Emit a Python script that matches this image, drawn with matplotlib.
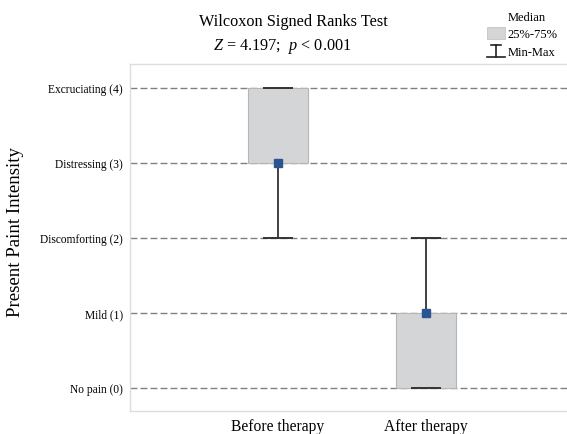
import matplotlib
matplotlib.use("Agg")
import matplotlib.pyplot as plt
from matplotlib.lines import Line2D
from matplotlib.patches import Patch
from matplotlib.legend_handler import HandlerBase

plt.rcParams['font.family'] = ['Liberation Serif', 'DejaVu Serif']
plt.rcParams['mathtext.fontset'] = 'custom'
plt.rcParams['mathtext.rm'] = 'Liberation Serif'
plt.rcParams['mathtext.it'] = 'Liberation Serif:italic'

# pain scores summary per group
groups = ["Before therapy", "After therapy"]
mins = [2, 0]
q1 = [3, 0]
medians = [3, 1]
q3 = [4, 1]
maxs = [4, 2]
levels = [0, 1, 2, 3, 4]
level_labels = ["No pain (0)", "Mild (1)", "Discomforting (2)",
                "Distressing (3)", "Excruciating (4)"]


class IBeamHandler(HandlerBase):
    # vertical line with a cap at each end, like the whiskers
    def create_artists(self, legend, orig_handle, xdescent, ydescent,
                       width, height, fontsize, trans):
        x0, x1 = -xdescent, width - xdescent
        cx = (x0 + x1) / 2
        y0, y1 = -ydescent, height - ydescent
        kw = dict(color="#222222", lw=1.2, transform=trans)
        return [Line2D([cx, cx], [y0, y1], **kw),
                Line2D([x0, x1], [y0, y0], **kw),
                Line2D([x0 + 3, x1 - 3], [y1, y1], **kw)]


fig = plt.figure(figsize=(5.67, 4.35), dpi=100)
ax = fig.add_axes([130 / 567, 23 / 435, 444 / 567, 347 / 435])

xs = [1, 2]
box_w = 0.4
cap_w = 0.2

for x, lo, a, m, b, hi in zip(xs, mins, q1, medians, q3, maxs):
    # whiskers from box edges out to min / max
    ax.vlines(x, lo, a, color="#333333", lw=1.3, zorder=3)
    ax.vlines(x, b, hi, color="#333333", lw=1.3, zorder=3)
    ax.hlines([lo, hi], x - cap_w / 2, x + cap_w / 2, color="#333333", lw=1.4, zorder=4)
    ax.bar(x, b - a, bottom=a, width=box_w, color="#d4d5d7",
           edgecolor="#b5b6b8", lw=0.8, zorder=2)
    ax.plot(x, m, marker="s", ms=6, color="#2b5592", zorder=5)

ax.set_xlim(0, 3)
ax.set_ylim(-0.31, 4.32)
ax.set_xticks(xs)
ax.set_xticklabels(groups, fontsize=11.2)
ax.set_yticks(levels)
ax.set_yticklabels(level_labels, fontsize=8.3)
ax.tick_params(length=0, pad=5)
ax.yaxis.grid(True, color="#808080", lw=1.0, linestyle=(0, (5, 2.2)))
ax.set_axisbelow(True)
for side in ["left", "top", "bottom"]:
    ax.spines[side].set_color("#dddddd")
    ax.spines[side].set_linewidth(1.0)
ax.spines["right"].set_visible(False)

fig.text(16 / 567, 1 - 232 / 435, "Present Paint Intensity", rotation=90,
         fontsize=13.6, ha="center", va="center")

fig.text(293 / 567, 1 - 22 / 435, "Wilcoxon Signed Ranks Test",
         fontsize=11.7, ha="center", va="center")
fig.text(282 / 567, 1 - 46 / 435, r"$Z$ = 4.197;  $p$ < 0.001",
         fontsize=11.7, ha="center", va="center")

# legend: median has no drawn symbol
minmax = Line2D([], [])
handles = [Line2D([], [], linestyle="none"),
           Patch(facecolor="#d4d5d7", edgecolor="#c4c5c7", lw=0.6),
           minmax]
fig.legend(handles, ["Median", "25%-75%", "Min-Max"],
           handler_map={minmax: IBeamHandler()},
           loc="upper left", bbox_to_anchor=(481 / 567, 1 - 4 / 435),
           frameon=False, fontsize=9, handlelength=1.4, handleheight=1.15,
           handletextpad=0.25, labelspacing=0.35, borderpad=0)

fig.savefig("out.png", dpi=100)
